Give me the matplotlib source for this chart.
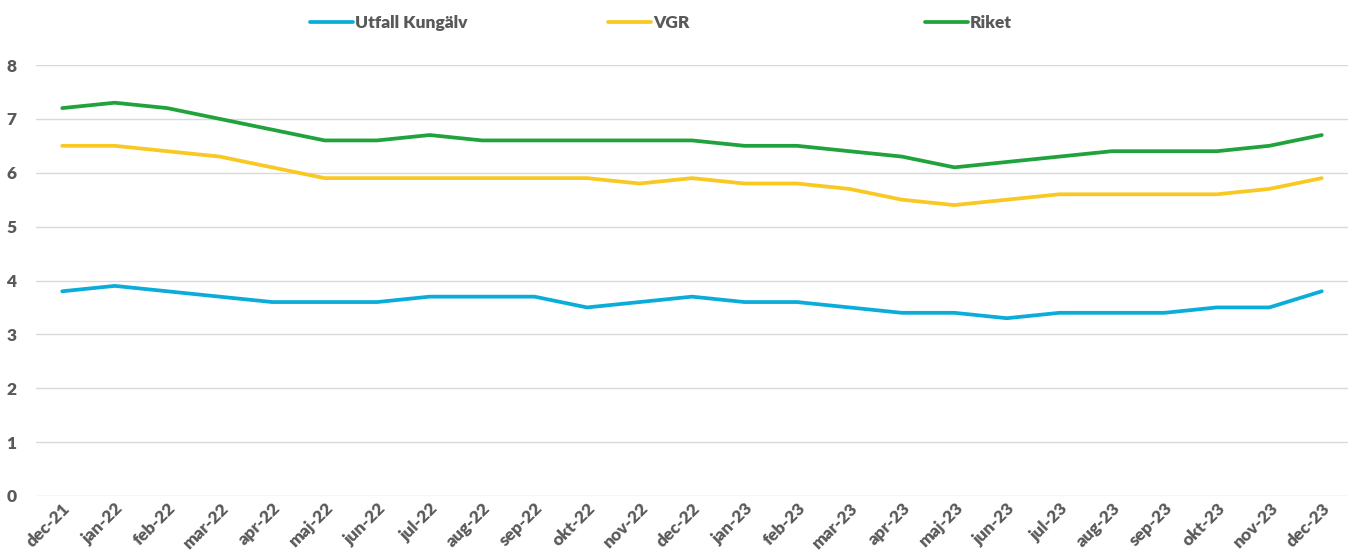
import matplotlib
matplotlib.use("Agg")
import matplotlib.pyplot as plt

plt.rcParams['font.family'] = ['Lato', 'DejaVu Sans']
plt.rcParams['font.weight'] = 'heavy'

MONTHS = ["dec-21", "jan-22", "feb-22", "mar-22", "apr-22", "maj-22", "jun-22",
          "jul-22", "aug-22", "sep-22", "okt-22", "nov-22", "dec-22", "jan-23",
          "feb-23", "mar-23", "apr-23", "maj-23", "jun-23", "jul-23", "aug-23",
          "sep-23", "okt-23", "nov-23", "dec-23"]

KUNGALV = [3.8, 3.9, 3.8, 3.7, 3.6, 3.6, 3.6, 3.7, 3.7, 3.7, 3.5, 3.6, 3.7,
           3.6, 3.6, 3.5, 3.4, 3.4, 3.3, 3.4, 3.4, 3.4, 3.5, 3.5, 3.8]
VGR = [6.5, 6.5, 6.4, 6.3, 6.1, 5.9, 5.9, 5.9, 5.9, 5.9, 5.9, 5.8, 5.9,
       5.8, 5.8, 5.7, 5.5, 5.4, 5.5, 5.6, 5.6, 5.6, 5.6, 5.7, 5.9]
RIKET = [7.2, 7.3, 7.2, 7.0, 6.8, 6.6, 6.6, 6.7, 6.6, 6.6, 6.6, 6.6, 6.6,
         6.5, 6.5, 6.4, 6.3, 6.1, 6.2, 6.3, 6.4, 6.4, 6.4, 6.5, 6.7]

SERIES = [
    ("Utfall Kungälv", KUNGALV, "#0AADD9", 310),
    ("VGR", VGR, "#F9C822", 608),
    ("Riket", RIKET, "#20A33C", 925),
]

TEXT_COLOR = "#595959"

fig = plt.figure(figsize=(13.5, 5.56), dpi=100)
ax = fig.add_axes([36 / 1350, 1 - 496 / 556, 1312 / 1350, 431 / 556])

x = list(range(len(MONTHS)))
lines = []
for name, vals, color, _ in SERIES:
    ln, = ax.plot(x, vals, color=color, lw=2.7, solid_capstyle='round',
                  solid_joinstyle='round', label=name, zorder=3)
    lines.append(ln)

ax.set_xlim(-0.5, len(MONTHS) - 0.5)
ax.set_ylim(0, 8)
ax.set_yticks(range(0, 9))
ax.yaxis.grid(True, color="#d9d9d9", lw=1)
ax.set_axisbelow(True)
for s in ax.spines.values():
    s.set_visible(False)
ax.tick_params(length=0, colors=TEXT_COLOR)
ax.tick_params(axis='y', labelsize=12.5, pad=14)
ax.set_xticks(x)
ax.set_xticklabels(MONTHS, rotation=45, ha='right', rotation_mode='anchor',
                   fontsize=12.5, color=TEXT_COLOR)
ax.tick_params(axis='x', pad=3)

# Legend entries laid out like the original, one per column
for ln, (name, _, _, xpos) in zip(lines, SERIES):
    leg = fig.legend(handles=[ln], loc='center left',
                     bbox_to_anchor=(xpos / 1350, 1 - 23 / 556),
                     frameon=False, handlelength=2.5, handletextpad=0.1,
                     borderpad=0, borderaxespad=0,
                     prop={'size': 12.5, 'weight': 'heavy'})
    for t in leg.get_texts():
        t.set_color(TEXT_COLOR)

fig.savefig("out.png", dpi=100)
